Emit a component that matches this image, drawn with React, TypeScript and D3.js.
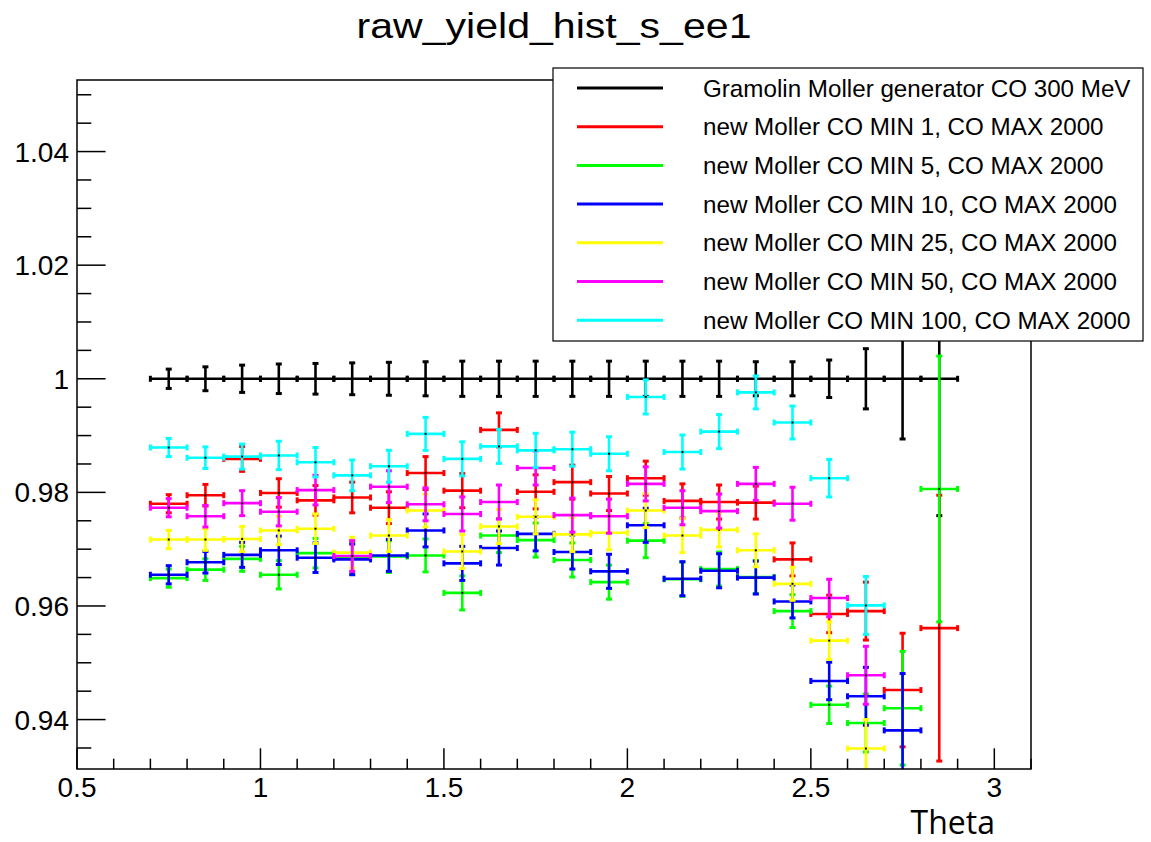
import React from "react";
import * as d3 from "d3";

const TITLE = "raw_yield_hist_s_ee1";
const X_LABEL = "Theta";

const binCenters = [0.75, 0.85, 0.95, 1.05, 1.15, 1.25, 1.35, 1.45, 1.55, 1.65, 1.75, 1.85, 1.95, 2.05, 2.15, 2.25, 2.35, 2.45, 2.55, 2.65, 2.75, 2.85];
const binHalfWidth = 0.05;

const gramolin = [1, 1, 1, 1, 1, 1, 1, 1, 1, 1, 1, 1, 1, 1, 1, 1, 1, 1, 1, 1, 1, 1];
const gramolinErr = [0.0017, 0.0021, 0.0024, 0.0026, 0.0027, 0.0028, 0.0029, 0.003, 0.0031, 0.0031, 0.0031, 0.0031, 0.0031, 0.0031, 0.0031, 0.0031, 0.003, 0.003, 0.0033, 0.0053, 0.0106, 0.0241];

const min1 = [0.978, 0.9795, 0.9859, 0.9799, 0.9786, 0.9791, 0.9773, 0.9834, 0.9803, 0.991, 0.9801, 0.9818, 0.9798, 0.9825, 0.9785, 0.9783, 0.9782, 0.9682, 0.9586, 0.9591, 0.9452, 0.9561];
const min5 = [0.9649, 0.9664, 0.9683, 0.9655, 0.9693, 0.9686, 0.9687, 0.9689, 0.9623, 0.9724, 0.9716, 0.9681, 0.9642, 0.9715, 0.9647, 0.9665, 0.9651, 0.9591, 0.9426, 0.9394, 0.942, 0.9806];
const min10 = [0.9655, 0.9677, 0.969, 0.9698, 0.9685, 0.9682, 0.9689, 0.9733, 0.9675, 0.9702, 0.9727, 0.9695, 0.9661, 0.9742, 0.9648, 0.9662, 0.965, 0.9608, 0.9468, 0.9441, 0.9381, null];
const min25 = [0.9717, 0.9717, 0.9718, 0.9733, 0.9736, 0.9694, 0.9724, 0.9768, 0.9696, 0.974, 0.9757, 0.9726, 0.9729, 0.9768, 0.9724, 0.9734, 0.9698, 0.9639, 0.9539, 0.9349, null, null];
const min50 = [0.9773, 0.9758, 0.9781, 0.9766, 0.9804, 0.9688, 0.981, 0.9779, 0.9762, 0.9783, 0.9843, 0.976, 0.9758, 0.9815, 0.9773, 0.9767, 0.9815, 0.978, 0.9614, 0.9478, null, null];
const min100 = [0.9879, 0.9861, 0.9863, 0.9865, 0.9853, 0.983, 0.9846, 0.9903, 0.9859, 0.9881, 0.9874, 0.9876, 0.9868, 0.9968, 0.9871, 0.9907, 0.9976, 0.9923, 0.9825, 0.9601, null, null];
const newMollerErr = [0.0016, 0.0019, 0.0022, 0.0025, 0.0026, 0.0027, 0.0028, 0.0029, 0.003, 0.003, 0.003, 0.003, 0.003, 0.003, 0.003, 0.003, 0.0029, 0.0029, 0.0033, 0.0051, 0.01, 0.0234];

const seriesNames = [
  "Gramolin Moller generator CO 300 MeV",
  "new Moller CO MIN 1, CO MAX 2000",
  "new Moller CO MIN 5, CO MAX 2000",
  "new Moller CO MIN 10, CO MAX 2000",
  "new Moller CO MIN 25, CO MAX 2000",
  "new Moller CO MIN 50, CO MAX 2000",
  "new Moller CO MIN 100, CO MAX 2000",
];
const seriesColors = ["#000000", "#ff0000", "#00ff00", "#0000ff", "#ffff00", "#ff00ff", "#00ffff"];
const seriesValues = [gramolin, min1, min5, min10, min25, min50, min100];
const seriesErrors = [gramolinErr, newMollerErr, newMollerErr, newMollerErr, newMollerErr, newMollerErr, newMollerErr];

const xMajorTicks = [0.5, 1, 1.5, 2, 2.5, 3];
const xTickLabels = ["0.5", "1", "1.5", "2", "2.5", "3"];
const yMajorTicks = [0.94, 0.96, 0.98, 1.0, 1.02, 1.04];
const yTickLabels = ["0.94", "0.96", "0.98", "1", "1.02", "1.04"];

const W = 1151;
const H = 842;
const frame = { left: 77, right: 1031, top: 80, bottom: 769 };
const FONT = "'Liberation Sans', Arial, Helvetica, sans-serif";

export default function App() {
  const x = d3.scaleLinear().domain([0.5, 3.1]).range([frame.left, frame.right]);
  const y = d3.scaleLinear().domain([0.9313, 1.0526]).range([frame.bottom, frame.top]);

  const xMinor = d3.range(5, 32).map((i) => i / 10).filter((v) => Math.abs(v * 2 - Math.round(v * 2)) > 1e-6);
  const yMinor = d3.range(186, 211).map((i) => i * 0.005).filter((v) => v >= 0.9313 && v <= 1.0526 && Math.abs(v * 50 - Math.round(v * 50)) > 1e-6);

  const cap = 3;
  const lw = 2.6;

  const renderSeries = (si: number) => {
    const vals = seriesValues[si];
    const errs = seriesErrors[si];
    const color = seriesColors[si];
    return (
      <g key={si} stroke={color} strokeWidth={lw} fill="none">
        {binCenters.map((c, i) => {
          const v = vals[i];
          if (v === null || v === undefined) return null;
          const e = errs[i];
          const cx = x(c);
          const cy = y(v);
          const x0 = x(c - binHalfWidth);
          const x1 = x(c + binHalfWidth);
          const yt = y(v + e);
          const yb = y(v - e);
          return (
            <g key={i}>
              <line x1={x0} x2={x1} y1={cy} y2={cy} />
              <line x1={x0} x2={x0} y1={cy - cap} y2={cy + cap} strokeWidth={3} />
              <line x1={x1} x2={x1} y1={cy - cap} y2={cy + cap} strokeWidth={3} />
              <line x1={cx} x2={cx} y1={yt} y2={yb} />
              <line x1={cx - cap} x2={cx + cap} y1={yt} y2={yt} strokeWidth={3} />
              <line x1={cx - cap} x2={cx + cap} y1={yb} y2={yb} strokeWidth={3} />
              <rect x={cx - 1} y={cy - 1} width={2} height={2} fill="#000" stroke="none" />
            </g>
          );
        })}
      </g>
    );
  };

  const legend = { x: 553, y: 68, w: 590, h: 273 };
  const rowY = (i: number) => 88 + i * 38.7;

  return (
    <svg width={W} height={H} style={{ position: "absolute", left: 0, top: 0, background: "#fff" }} fontFamily={FONT}>
      <rect x={0} y={0} width={W} height={H} fill="#fff" />
      <defs>
        <clipPath id="frameClip">
          <rect x={frame.left} y={frame.top} width={frame.right - frame.left} height={frame.bottom - frame.top} />
        </clipPath>
      </defs>

      <text x={554} y={38} fontSize={35} textAnchor="middle" textLength={395} lengthAdjust="spacingAndGlyphs" fill="#000">
        {TITLE}
      </text>

      <g clipPath="url(#frameClip)">{seriesValues.map((_, si) => renderSeries(si))}</g>

      <rect x={frame.left} y={frame.top} width={frame.right - frame.left} height={frame.bottom - frame.top} fill="none" stroke="#000" strokeWidth={1.5} />

      <g stroke="#000" strokeWidth={1.5}>
        {xMajorTicks.map((t) => (
          <line key={"xM" + t} x1={x(t)} x2={x(t)} y1={frame.bottom} y2={frame.bottom - 20.7} />
        ))}
        {xMinor.map((t) => (
          <line key={"xm" + t} x1={x(t)} x2={x(t)} y1={frame.bottom} y2={frame.bottom - 10.3} />
        ))}
        {yMajorTicks.map((t) => (
          <line key={"yM" + t} x1={frame.left} x2={frame.left + 28.6} y1={y(t)} y2={y(t)} />
        ))}
        {yMinor.map((t) => (
          <line key={"ym" + t} x1={frame.left} x2={frame.left + 14.3} y1={y(t)} y2={y(t)} />
        ))}
      </g>
      <g fontSize={28} fill="#000">
        {xMajorTicks.map((t, i) => (
          <text key={"xl" + t} x={x(t)} y={797} textAnchor="middle">
            {xTickLabels[i]}
          </text>
        ))}
        {yMajorTicks.map((t, i) => (
          <text key={"yl" + t} x={69} y={y(t) + 10} textAnchor="end">
            {yTickLabels[i]}
          </text>
        ))}
      </g>
      <text x={995} y={834} fontSize={32} textAnchor="end" fontFamily="'Open Sans', sans-serif" fill="#000">
        {X_LABEL}
      </text>

      <rect x={legend.x} y={legend.y} width={legend.w} height={legend.h} fill="#fff" stroke="#000" strokeWidth={1.2} />
      {seriesNames.map((name, i) => (
        <g key={"lg" + i}>
          <line x1={577} x2={663} y1={rowY(i)} y2={rowY(i)} stroke={seriesColors[i]} strokeWidth={3} />
          <text x={703} y={rowY(i) + 8.5} fontSize={24.2} fill="#000">
            {name}
          </text>
        </g>
      ))}
    </svg>
  );
}
